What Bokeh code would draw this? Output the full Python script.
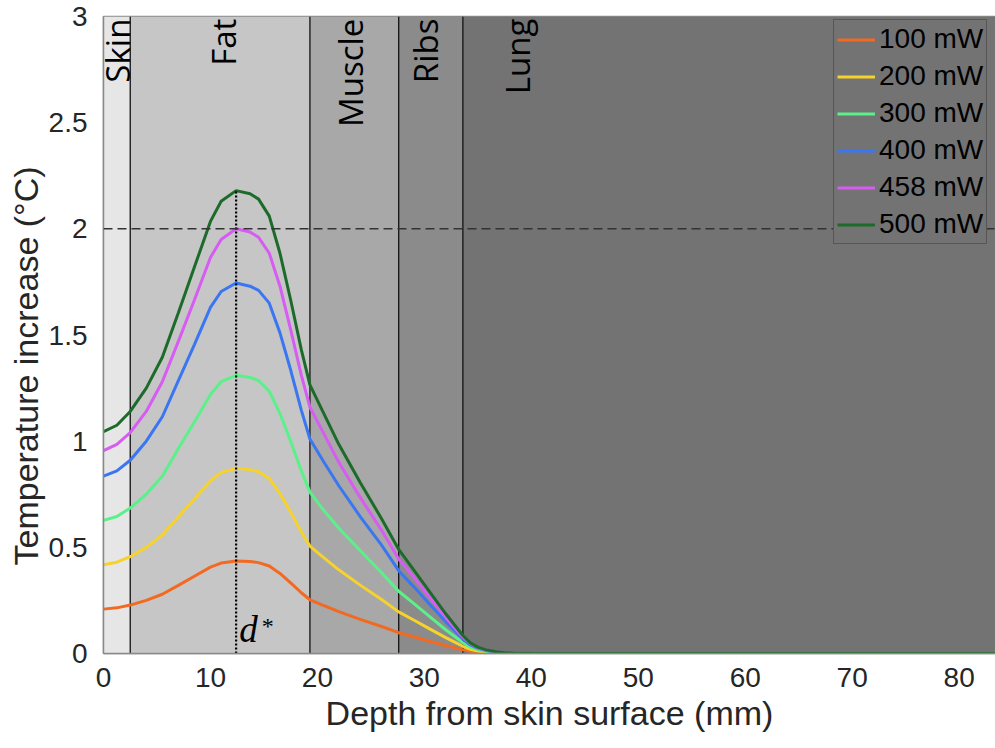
import math
from bokeh.plotting import figure
from bokeh.models import Range1d, Span, Legend, LegendItem, FixedTicker, Title
from bokeh.core.properties import value
from bokeh.embed import file_html
from bokeh.resources import INLINE

# ---- data ----
depth_mm = [0, 1.25, 2.5, 4, 5.5, 7, 8.5, 10, 11, 12.4, 13.7, 14.5, 15.5, 16.5, 17.5, 18.5,
            19.3, 20.5, 22, 24, 26, 27.6, 29, 30.5, 32, 33.6, 34.3, 35, 35.8, 36.6, 37.5,
            38.5, 40, 45, 84]

t_100 = [0.209, 0.215, 0.228, 0.25, 0.279, 0.321, 0.364, 0.407, 0.426, 0.436, 0.433, 0.428,
         0.412, 0.377, 0.333, 0.286, 0.253, 0.228, 0.197, 0.161, 0.127, 0.098, 0.079, 0.058,
         0.038, 0.017, 0.01, 0.006, 0.0035, 0.0018, 0.0008, 0.0004, 0.0002, 0, 0]
t_200 = [0.418, 0.43, 0.456, 0.50, 0.558, 0.643, 0.728, 0.814, 0.852, 0.872, 0.866, 0.856,
         0.824, 0.754, 0.666, 0.572, 0.506, 0.455, 0.394, 0.322, 0.254, 0.196, 0.158, 0.116,
         0.075, 0.034, 0.02, 0.012, 0.007, 0.0035, 0.0016, 0.0008, 0.0004, 0, 0]
t_300 = [0.627, 0.645, 0.685, 0.75, 0.835, 0.965, 1.09, 1.22, 1.28, 1.31, 1.30, 1.285,
         1.235, 1.13, 1.0, 0.86, 0.76, 0.68, 0.59, 0.485, 0.38, 0.293, 0.236, 0.174,
         0.112, 0.051, 0.03, 0.018, 0.01, 0.005, 0.0025, 0.001, 0.0005, 0, 0]
t_400 = [0.835, 0.86, 0.91, 1.0, 1.115, 1.285, 1.455, 1.63, 1.705, 1.745, 1.73, 1.71,
         1.65, 1.51, 1.335, 1.145, 1.01, 0.91, 0.79, 0.645, 0.51, 0.39, 0.315, 0.232,
         0.15, 0.068, 0.04, 0.024, 0.014, 0.007, 0.003, 0.0015, 0.001, 0, 0]
t_458 = [0.955, 0.985, 1.04, 1.14, 1.28, 1.47, 1.665, 1.865, 1.95, 2.0, 1.985, 1.96,
         1.885, 1.73, 1.525, 1.31, 1.16, 1.045, 0.90, 0.735, 0.58, 0.445, 0.36, 0.265,
         0.17, 0.077, 0.046, 0.027, 0.016, 0.008, 0.004, 0.002, 0.001, 0, 0]
t_500 = [1.045, 1.075, 1.14, 1.25, 1.395, 1.605, 1.82, 2.035, 2.13, 2.18, 2.165, 2.14,
         2.06, 1.885, 1.665, 1.43, 1.265, 1.14, 0.985, 0.805, 0.635, 0.49, 0.394, 0.29,
         0.187, 0.085, 0.05, 0.03, 0.017, 0.009, 0.004, 0.002, 0.001, 0, 0]

series_labels = ["100 mW", "200 mW", "300 mW", "400 mW", "458 mW", "500 mW"]
series_values = [t_100, t_200, t_300, t_400, t_458, t_500]

layer_names = ["Skin", "Fat", "Muscle", "Ribs", "Lung"]
layer_edges = [0, 2.5, 19.3, 27.6, 33.6, 84]

threshold = 2.0
d_star = 12.4
d_star_peak = 2.18

x_ticks = [0, 10, 20, 30, 40, 50, 60, 70, 80]
y_ticks = [0, 0.5, 1, 1.5, 2, 2.5, 3]
y_tick_labels = ["0", "0.5", "1", "1.5", "2", "2.5", "3"]

# ---- styles ----
series_colors = ["#f26a22", "#f5d22c", "#5cf08a", "#3b76f2", "#d65cf2", "#1d6b2b"]
layer_colors = ["#e6e6e6", "#c6c6c6", "#a8a8a8", "#8b8b8b", "#737373"]
label_x = [1.3, 11.2, 23.1, 30.1, 38.7]

p = figure(width=995, height=748, output_backend="svg", toolbar_location=None,
           x_range=Range1d(0, 83.4), y_range=Range1d(0, 3),
           min_border_left=103, min_border_right=0, min_border_top=16, min_border_bottom=95)
p.background_fill_color = "#ffffff"
p.border_fill_color = "#ffffff"
p.outline_line_color = "#8a8a8a"
p.outline_line_width = 1.5
p.grid.visible = False

# tissue layers
p.quad(left=layer_edges[:-1], right=layer_edges[1:], bottom=0, top=3,
       fill_color=layer_colors, line_color=None)
p.segment(x0=layer_edges[1:-1], y0=0, x1=layer_edges[1:-1], y1=3,
          line_color="#111111", line_width=1.3)

# layer names (rotated)
p.text(x=label_x, y=[2.99] * 5, text=layer_names, angle=math.pi / 2,
       text_align="right", text_baseline="middle",
       text_font=value("Open Sans"), text_font_size="33px", text_color="#000000")

# threshold
p.add_layout(Span(location=threshold, dimension="width", line_color="#333333",
                  line_dash="9 5", line_width=1.5))

renderers = []
for lab, vals, col in zip(series_labels, series_values, series_colors):
    r = p.line(depth_mm, vals, line_color=col, line_width=3)
    renderers.append((lab, r))

# d* marker
p.segment(x0=[d_star], y0=[0], x1=[d_star], y1=[d_star_peak],
          line_color="#000000", line_dash="2 2", line_width=2.2)
p.text(x=[d_star + 0.3], y=[0.018], text=["d"], text_font=value("Liberation Serif"),
       text_font_style="italic", text_font_size="37px", text_baseline="bottom",
       text_align="left", text_color="#000000")
p.text(x=[d_star + 2.4], y=[0.19], text=["*"], text_font=value("Liberation Serif"),
       text_font_size="24px", text_baseline="top",
       text_align="left", text_color="#000000")

legend = Legend(items=[LegendItem(label=l, renderers=[r]) for l, r in renderers],
                location=(730, 409))
legend.margin = 0
legend.padding = 3
legend.spacing = 5
legend.glyph_width = 38
legend.glyph_height = 31
legend.label_height = 31
legend.label_standoff = 4
legend.label_text_font = "Liberation Sans"
legend.label_text_font_size = "28px"
legend.label_text_color = "#000000"
legend.border_line_color = "#3a3a3a"
legend.border_line_width = 1.2
legend.background_fill_color = "#737373"
legend.background_fill_alpha = 1.0
p.add_layout(legend)

# axes
for ax in (p.xaxis[0], p.yaxis[0]):
    ax.axis_line_color = "#8a8a8a"
    ax.axis_line_width = 1.5
    ax.major_tick_line_color = None
    ax.minor_tick_line_color = None
    ax.major_label_text_font = "Liberation Sans"
    ax.major_label_text_font_size = "28px"
    ax.major_label_text_color = "#262626"
    ax.axis_label_text_font = "Liberation Sans"
    ax.axis_label_text_font_size = "34px"
    ax.axis_label_text_font_style = "normal"
    ax.axis_label_text_color = "#262626"

p.xaxis.ticker = FixedTicker(ticks=x_ticks)
p.yaxis.ticker = FixedTicker(ticks=y_ticks)
p.yaxis.major_label_overrides = {t: s for t, s in zip(y_ticks, y_tick_labels)}
p.xaxis.axis_label = "Depth from skin surface (mm)"
p.xaxis.major_label_standoff = 8
p.yaxis.major_label_standoff = 10
p.xaxis.axis_label_standoff = 4

# y-axis title, placed like the original (slightly below centre)
p.add_layout(Title(text="Temperature increase (°C)", align="left", offset=88,
                   standoff=2, text_font="Liberation Sans", text_font_size="34px",
                   text_font_style="normal", text_color="#262626"), "left")

open("out.html", "w").write(file_html(p, INLINE))
